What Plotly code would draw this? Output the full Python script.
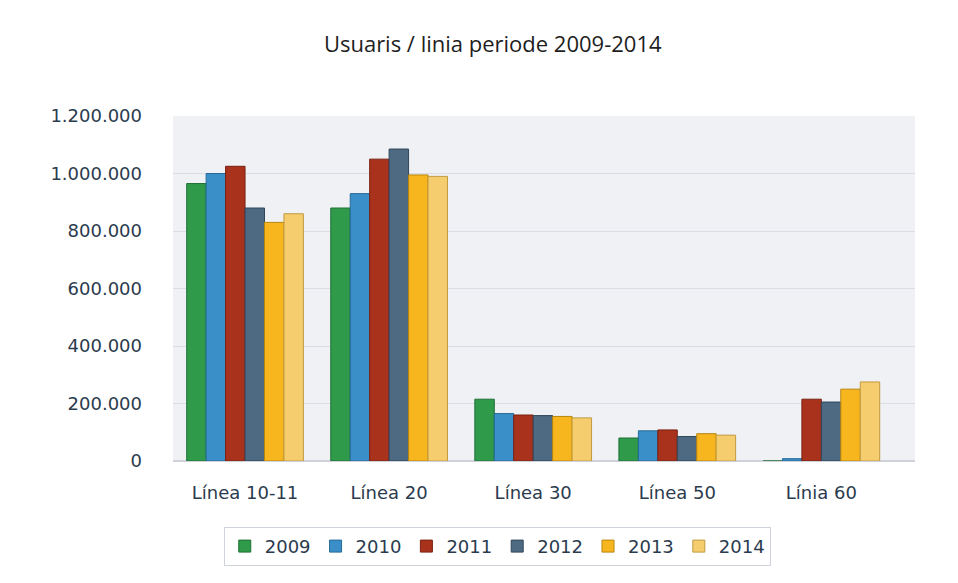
import plotly.graph_objects as go

categories = ["Línea 10-11", "Línea 20", "Línea 30", "Línea 50", "Línia 60"]
years = ["2009", "2010", "2011", "2012", "2013", "2014"]
v2009 = [965000, 880000, 215000, 80000, 0]
v2010 = [1000000, 930000, 165000, 105000, 8000]
v2011 = [1025000, 1050000, 160000, 108000, 215000]
v2012 = [880000, 1085000, 158000, 85000, 205000]
v2013 = [830000, 995000, 155000, 95000, 250000]
v2014 = [860000, 990000, 150000, 90000, 275000]
series = [v2009, v2010, v2011, v2012, v2013, v2014]
colors = ["#2f9a4a", "#3a8fc8", "#a8321c", "#4d6a82", "#f7b51e", "#f6cd6e"]
edges = ["#1f7035", "#256a98", "#7a2010", "#2f465a", "#b8860e", "#c09a40"]

tick_vals = [0, 200000, 400000, 600000, 800000, 1000000, 1200000]
tick_text = ["0", "200.000", "400.000", "600.000", "800.000", "1.000.000", "1.200.000"]

fig = go.Figure()
for name, vals, c, e in zip(years, series, colors, edges):
    fig.add_trace(go.Bar(
        name=name, x=categories, y=vals,
        marker=dict(color=c, line=dict(color=e, width=1)),
    ))

fig.update_layout(
    width=958, height=583,
    margin=dict(l=165, r=51, t=108, b=130),
    paper_bgcolor="white",
    plot_bgcolor="#eff1f5",
    barmode="group",
    bargap=0.19,
    bargroupgap=0,
    title=dict(text="Usuaris / linia periode 2009-2014", x=0.506, xanchor="center",
               y=0.937, yanchor="middle",
               font=dict(family="Open Sans", size=22, color="#1e1e1e")),
    font=dict(family="DejaVu Sans", color="#2b3b4e"),
    xaxis=dict(range=[-0.5, 4.65], showgrid=False, zeroline=False,
               tickfont=dict(family="DejaVu Sans", size=18, color="#2b3b4e"),
               ticks="", showline=False, ticklabelstandoff=19),
    yaxis=dict(range=[0, 1200000], tickvals=tick_vals, ticktext=tick_text,
               gridcolor="#dadde3", gridwidth=1, zeroline=True, zerolinecolor="#cfd3d9",
               tickfont=dict(family="DejaVu Sans", size=18, color="#2b3b4e"),
               ticks="", ticklabelstandoff=30),
    legend=dict(orientation="h", x=0.437, xanchor="center", y=-0.191, yanchor="top",
                bordercolor="#cfd4dc", borderwidth=1, bgcolor="white",
                font=dict(family="DejaVu Sans", size=18, color="#2b3b4e"), itemwidth=30,
                traceorder="normal"),
)

fig.write_html("out.html")
